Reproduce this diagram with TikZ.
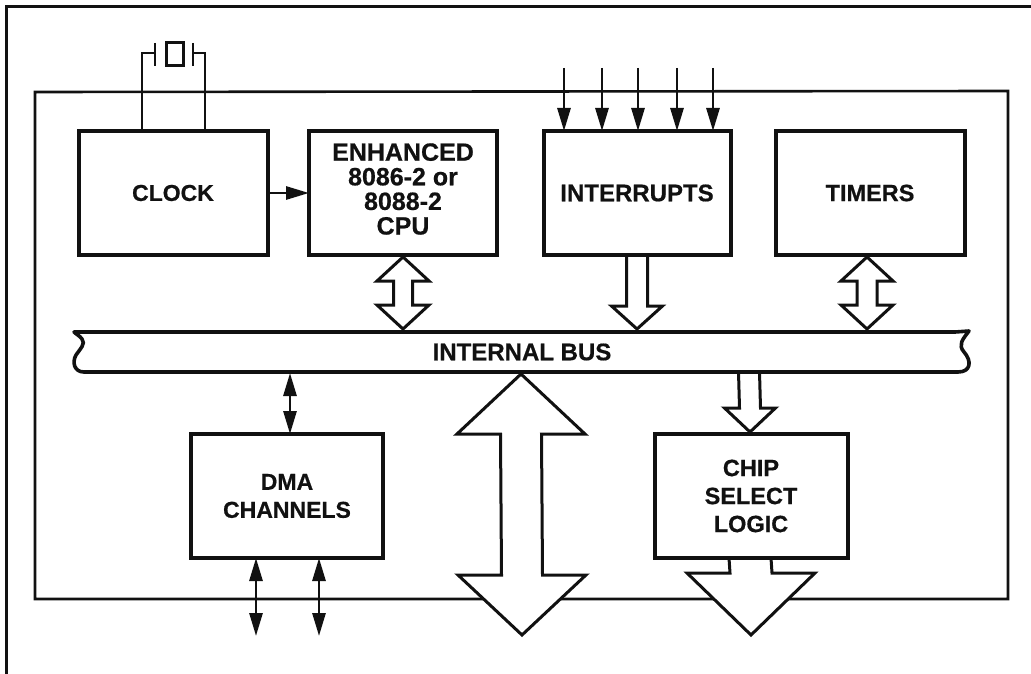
\documentclass[tikz,border=0pt]{standalone}
\usepackage{fontspec}
\setmainfont[BoldFeatures={FakeBold=0.6}]{Liberation Sans}
\usetikzlibrary{arrows.meta,calc}
\definecolor{inkc}{HTML}{111111}
\tikzset{
  frameline/.style={draw=inkc,line width=2.6pt},
  blockbox/.style={draw=inkc,fill=white,line width=4pt,inner sep=0pt,outer sep=0pt,align=center,text=inkc},
  labelfont/.style 2 args={font=\fontsize{#1}{#2}\selectfont\bfseries},
  thinarrow/.style={draw=inkc,line width=2.8pt,-{Triangle[length=23pt,width=13pt]}},
  thindouble/.style={draw=inkc,line width=2.8pt,{Triangle[length=23pt,width=13pt]}-{Triangle[length=23pt,width=13pt]}},
  wire/.style={draw=inkc,line width=2.6pt},
  hollow/.style={draw=inkc,fill=white,line width=3pt,line join=miter,miter limit=6},
  busline/.style={draw=inkc,fill=white,line width=3.6pt,line join=round}
}
% double block arrow between two named tips: stem half width, head half width, head length
\newcommand\blockdouble[5]{\draw[hollow] (#1) -- ($(#1)+(-#4,#5)$) -- ($(#1)+(-#3,#5)$) -- ($(#2)+(-#3,-#5)$) -- ($(#2)+(-#4,-#5)$) -- (#2)
  -- ($(#2)+(#4,-#5)$) -- ($(#2)+(#3,-#5)$) -- ($(#1)+(#3,#5)$) -- ($(#1)+(#4,#5)$) -- cycle;}
% single block arrow from named start to named tip
\newcommand\blocksingle[5]{\draw[hollow] ($(#1)+(-#3,0)$) -- ($(#2)+(-#3,-#5)$) -- ($(#2)+(-#4,-#5)$) -- (#2)
  -- ($(#2)+(#4,-#5)$) -- ($(#2)+(#3,-#5)$) -- ($(#1)+(#3,0)$);}
\begin{document}
\begin{tikzpicture}[x=1pt,y=-1pt]
\useasboundingbox (0,0) rectangle (1031,674);
\fill[white] (0,0) rectangle (1031,674);
% page frame and chip outline
\draw[draw=inkc,line width=3pt] (6,680) -- (6,7) -- (1040,7);
\draw[frameline] (35,599) -- (35,92) -- (1008,91) -- (1008,599) -- cycle;

% block arrows that run out from under a box or the bus
\coordinate (o1) at (750,558); \coordinate (o2) at (751,635);
\blocksingle{o1}{o2}{21}{64}{62}
\coordinate (m1) at (521,374); \coordinate (m2) at (522,635);
\blockdouble{m1}{m2}{20.5}{64}{60}
\coordinate (i1) at (637,256); \coordinate (i2) at (637,329);
\blocksingle{i1}{i2}{10.5}{25.5}{23}
\coordinate (s1) at (749,372); \coordinate (s2) at (750,432);
\blocksingle{s1}{s2}{10.5}{25.5}{24}

% boxes
\node[blockbox,labelfont={23}{28},minimum width=189,minimum height=124] (clock) at (173,193) {CLOCK};
\node[blockbox,labelfont={25}{24.6},minimum width=188,minimum height=124] (cpu) at (403,193) {};
\node[labelfont={25}{24.6},align=center,text=inkc,inner sep=0pt] (cputext) at (403,189) {ENHANCED\\8086-2 or\\8088-2\\CPU};
\node[blockbox,labelfont={24}{28},minimum width=187,minimum height=124] (intr) at (637,193) {INTERRUPTS};
\node[blockbox,labelfont={23.5}{28},minimum width=189,minimum height=124] (timers) at (870,193) {TIMERS};
\node[blockbox,labelfont={23}{28},minimum width=192,minimum height=124] (dma) at (287,496) {DMA\\CHANNELS};
\node[blockbox,labelfont={23.5}{28},minimum width=193,minimum height=124] (chip) at (751,496) {CHIP\\SELECT\\LOGIC};

% internal bus
\draw[busline] (74,332) -- (955,332) -- (969,331)
  .. controls (962,340) and (958,345) .. (964,352)
  .. controls (972,361) and (971,372) .. (958,372)
  -- (84,372)
  .. controls (74,372) and (72,362) .. (76,355)
  .. controls (80,349) and (86,344) .. (82,339)
  .. controls (80,336) and (76,334) .. (74,332) -- cycle;
\node[labelfont={24}{28},text=inkc,inner sep=0pt,minimum width=880,minimum height=38] (bus) at (522,352) {INTERNAL BUS};

% crystal
\node[draw=inkc,line width=2.8pt,inner sep=0pt,minimum width=17,minimum height=23] (xtal) at (175,54) {};
\coordinate (pl1) at (155,43); \coordinate (pl2) at (155,66);
\coordinate (pr1) at (193,43); \coordinate (pr2) at (193,66);
\coordinate (plm) at (155,53); \coordinate (prm) at (193,53);
\coordinate (wl) at (142,53); \coordinate (wr) at (205,53);
\draw[wire] (pl1) -- (pl2);
\draw[wire] (pr1) -- (pr2);
\draw[wire] (plm) -- (wl) -- (clock.north -| wl);
\draw[wire] (prm) -- (wr) -- (clock.north -| wr);

% clock to cpu
\draw[thinarrow] (clock.east) -- (cpu.west);

% interrupt inputs
\foreach \n/\x in {a/564,b/602,c/638,d/677,e/713}{
  \coordinate (in\n) at (\x,68);
  \draw[thinarrow] (in\n) -- (intr.north -| in\n);
}

% block arrows between boxes and bus
\coordinate (c1) at (403,257); \coordinate (c2) at (403,329);
\blockdouble{c1}{c2}{9.5}{26}{24}
\coordinate (t1) at (867,257); \coordinate (t2) at (867,329);
\blockdouble{t1}{t2}{10}{26}{24}

% dma connections
\coordinate (bd) at (290,373);
\draw[thindouble] (bd) -- (dma.north -| bd);
\coordinate (d1) at (256,636); \coordinate (d2) at (319,636);
\draw[thindouble] (dma.south -| d1) -- (d1);
\draw[thindouble] (dma.south -| d2) -- (d2);
\end{tikzpicture}
\end{document}
